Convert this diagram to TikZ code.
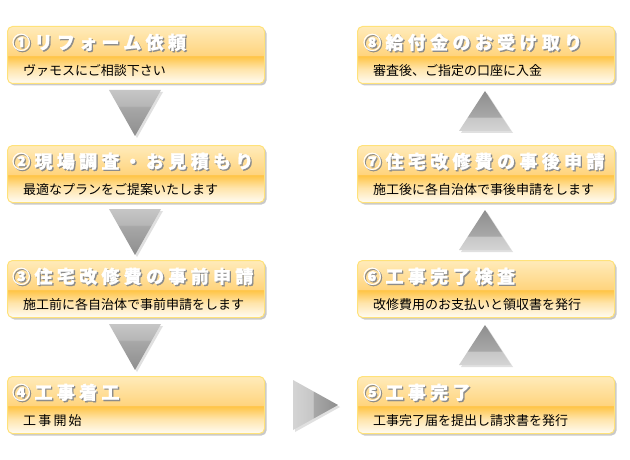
\documentclass[tikz,border=0pt]{standalone}
\usepackage{fontspec}
\newfontfamily\cjk{Noto Sans CJK JP}
\newfontfamily\cjktitle{Noto Sans CJK JP}[LetterSpace=24, BoldFeatures={FakeBold=1.2}]
\usetikzlibrary{calc,shadows}
\definecolor{bxbot}{HTML}{FFFCF3}
\definecolor{bxlow}{HTML}{FFE4AA}
\definecolor{bxmid}{HTML}{FFC444}
\definecolor{bxhead}{HTML}{FFD47E}
\definecolor{bxtop}{HTML}{FFEBBA}
\definecolor{bxborder}{HTML}{FFE27A}
\definecolor{tga}{HTML}{C6C6C6}
\definecolor{tgb}{HTML}{B6B6B6}
\definecolor{tgc}{HTML}{A8A8A8}
\definecolor{tgd}{HTML}{8E8E8E}
\definecolor{tge}{HTML}{D4D4D4}
\pgfdeclareverticalshading{boxshade}{100bp}{color(0bp)=(bxbot); color(25bp)=(bxbot); color(38bp)=(bxlow); color(49bp)=(bxmid); color(49.6bp)=(bxhead); color(75bp)=(bxtop); color(100bp)=(bxtop)}
\pgfdeclareverticalshading{tridown}{100bp}{color(0bp)=(tgd); color(25bp)=(tgd); color(57bp)=(tgc); color(57.5bp)=(tgb); color(75bp)=(tga); color(100bp)=(tga)}
\pgfdeclareverticalshading{triup}{100bp}{color(0bp)=(tge); color(25bp)=(tge); color(42bp)=(tga); color(42.5bp)=(tgc); color(75bp)=(tgd); color(100bp)=(tgd)}
\pgfdeclarehorizontalshading{triright}{100bp}{color(0bp)=(tge); color(25bp)=(tge); color(47bp)=(tga); color(47.5bp)=(tgc); color(75bp)=(tgd); color(100bp)=(tgd)}
\newcommand\shtitle[1]{\makebox[0pt][l]{\hspace{1.3pt}\raisebox{-1.3pt}{\textcolor{black!45}{#1}}}\textcolor{white}{#1}}
\begin{document}
\begin{tikzpicture}[x=1pt,y=-1pt,
  stepbox/.style={draw=bxborder, line width=1pt, rounded corners=5pt, shading=boxshade,
    minimum width=257pt, minimum height=57pt, inner sep=0pt, anchor=north west,
    drop shadow={shadow xshift=2pt, shadow yshift=-2pt, fill=black!35, opacity=0.6}},
  titletext/.style={anchor=west, inner sep=0pt, font=\cjktitle\bfseries\fontsize{18}{18}\selectfont},
  subtext/.style={anchor=west, inner sep=0pt, font=\cjk\fontsize{13}{13}\selectfont, text=black},
  trishadow/.style={fill=black!12},
  tdown/.style={shading=tridown},
  tup/.style={shading=triup},
  tright/.style={shading=triright}]
\fill[white] (0,0) rectangle (630,460);
\useasboundingbox (0,0) rectangle (630,460);
% boxes
\node[stepbox] (b1) at (7,26) {};
\node[stepbox] (b2) at (7,145) {};
\node[stepbox] (b3) at (7,260) {};
\node[stepbox] (b4) at (7,376) {};
\node[stepbox] (b8) at (357,26) {};
\node[stepbox] (b7) at (357,145) {};
\node[stepbox] (b6) at (357,260) {};
\node[stepbox] (b5) at (357,376) {};
% titles
\node[titletext] (t1) at ($(b1.north west)+(5,17)$) {\shtitle{①リフォーム依頼}};
\node[titletext] (t2) at ($(b2.north west)+(5,17)$) {\shtitle{②現場調査・お見積もり}};
\node[titletext] (t3) at ($(b3.north west)+(5,17)$) {\shtitle{③住宅改修費の事前申請}};
\node[titletext] (t4) at ($(b4.north west)+(5,17)$) {\shtitle{④工事着工}};
\node[titletext] (t5) at ($(b5.north west)+(6,17)$) {\shtitle{⑤工事完了}};
\node[titletext] (t6) at ($(b6.north west)+(6,17)$) {\shtitle{⑥工事完了検査}};
\node[titletext] (t7) at ($(b7.north west)+(6,17)$) {\shtitle{⑦住宅改修費の事後申請}};
\node[titletext] (t8) at ($(b8.north west)+(6,17)$) {\shtitle{⑧給付金のお受け取り}};
% subtitles
\node[subtext] (s1) at ($(b1.north west)+(16,45)$) {ヴァモスにご相談下さい};
\node[subtext] (s2) at ($(b2.north west)+(16,45)$) {最適なプランをご提案いたします};
\node[subtext] (s3) at ($(b3.north west)+(16,45)$) {施工前に各自治体で事前申請をします};
\node[subtext] (s4) at ($(b4.north west)+(16,45)$) {工\,事\,開\,始};
\node[subtext] (s5) at ($(b5.north west)+(16,45)$) {工事完了届を提出し請求書を発行};
\node[subtext] (s6) at ($(b6.north west)+(16,45)$) {改修費用のお支払いと領収書を発行};
\node[subtext] (s7) at ($(b7.north west)+(16,45)$) {施工後に各自治体で事後申請をします};
\node[subtext] (s8) at ($(b8.north west)+(16,45)$) {審査後、ご指定の口座に入金};
% down arrows (left column)
\foreach \a in {b1,b2,b3}{
  \coordinate (d\a) at ($(\a.south)+(-1,6)$);
  \fill[trishadow] ($(d\a)+(2,2)$) ++(-26,0) -- ++(52,0) -- ++(-26,46) -- cycle;
  \shade[tdown] (d\a) ++(-26,0) -- ++(52,0) -- ++(-26,46) -- cycle;
}
% up arrows (right column)
\foreach \a in {b8,b7,b6}{
  \coordinate (u\a) at ($(\a.south)+(-1,7)$);
  \fill[trishadow] ($(u\a)+(2,2)$) -- ++(26,40) -- ++(-52,0) -- cycle;
  \shade[tup] (u\a) -- ++(26,40) -- ++(-52,0) -- cycle;
}
% right arrow
\coordinate (r1) at ($(b4.east)+(28,0)$);
\fill[trishadow] ($(r1)+(2,2)$) ++(0,-25) -- ++(45,25) -- ++(-45,25) -- cycle;
\shade[tright] (r1) ++(0,-25) -- ++(45,25) -- ++(-45,25) -- cycle;
\end{tikzpicture}
\end{document}
